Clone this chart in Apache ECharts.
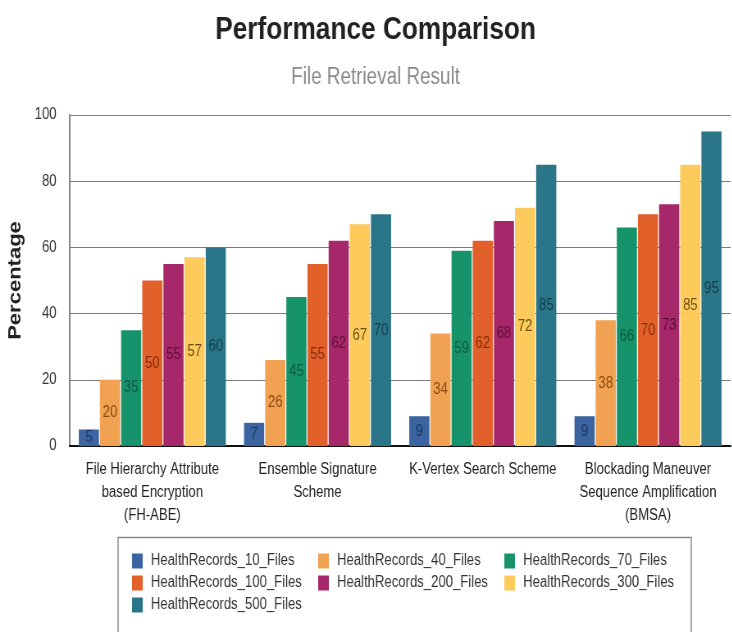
<!DOCTYPE html>
<html>
<head>
<meta charset="utf-8">
<script src="https://cdn.jsdelivr.net/npm/echarts@6/dist/echarts.min.js"></script>
<style>
  html, body { margin: 0; padding: 0; background: #fff; overflow: hidden; }
  #frame { width: 732px; height: 632px; overflow: hidden; }
  /* chart is laid out wider and condensed horizontally */
  #chart { width: 893px; height: 632px; transform: scaleX(0.82); transform-origin: 0 0; }
</style>
</head>
<body>
<div id="frame"><div id="chart"></div></div>
<script>
// Retrieval schemes on the x axis
const categories = [
  'File Hierarchy Attribute\nbased Encryption\n(FH-ABE)',
  'Ensemble Signature\nScheme',
  'K-Vertex Search Scheme',
  'Blockading Maneuver\nSequence Amplification\n(BMSA)'
];

// Retrieval percentage per record-set size
const files10  = [5, 7, 9, 9];
const files40  = [20, 26, 34, 38];
const files70  = [35, 45, 59, 66];
const files100 = [50, 55, 62, 70];
const files200 = [55, 62, 68, 73];
const files300 = [57, 67, 72, 85];
const files500 = [60, 70, 85, 95];

const seriesNames = [
  'HealthRecords_10_Files', 'HealthRecords_40_Files', 'HealthRecords_70_Files',
  'HealthRecords_100_Files', 'HealthRecords_200_Files', 'HealthRecords_300_Files',
  'HealthRecords_500_Files'
];
const seriesValues = [files10, files40, files70, files100, files200, files300, files500];

const yTicks = [0, 20, 40, 60, 80, 100];

const barColors   = ['#3b64a0', '#f0a252', '#17936b', '#e2612a', '#a6286a', '#fdca5c', '#2b7588'];
const labelColors = ['#1c3a66', '#8c4b0e', '#0b5a3f', '#8a2c08', '#5e0f36', '#6b5210', '#113f4c'];

const FONT = '"Liberation Sans", Arial, sans-serif';

const chart = echarts.init(document.getElementById('chart'), null, { renderer: 'canvas' });

const series = seriesNames.map((name, i) => ({
  name: name,
  type: 'bar',
  data: seriesValues[i],
  barGap: '5%',
  barCategoryGap: '11%',
  itemStyle: { color: barColors[i] },
  label: {
    show: true,
    position: 'inside',
    color: labelColors[i],
    fontFamily: FONT,
    fontSize: 16
  },
  emphasis: { disabled: true }
}));

const legendCommon = {
  orient: 'vertical',
  top: 553,
  padding: 0,
  itemWidth: 13,
  itemHeight: 15,
  itemGap: 6,
  icon: 'rect',
  textStyle: { fontFamily: FONT, fontSize: 16, color: '#333', padding: [0, 0, 0, 5] },
  selectedMode: false
};

chart.setOption({
  animation: false,
  backgroundColor: '#fff',
  grid: { left: 85, right: 2, top: 115, bottom: 186, containLabel: false },
  xAxis: {
    type: 'category',
    data: categories,
    axisLine: { show: true, lineStyle: { color: '#111', width: 2 } },
    axisTick: { show: false },
    axisLabel: {
      interval: 0,
      margin: 12,
      fontFamily: FONT,
      fontSize: 16,
      lineHeight: 23,
      color: '#222'
    }
  },
  yAxis: {
    type: 'value',
    min: yTicks[0],
    max: yTicks[yTicks.length - 1],
    interval: 20,
    name: 'Percentage',
    nameLocation: 'middle',
    nameGap: 55,
    nameTextStyle: { fontFamily: FONT, fontWeight: 'bold', fontSize: 22, color: '#222' },
    axisLine: { show: true, lineStyle: { color: '#858585', width: 2 } },
    axisTick: { show: false },
    splitLine: { show: true, lineStyle: { color: '#7a7a7a', width: 1 } },
    axisLabel: { margin: 16, fontFamily: FONT, fontSize: 16, color: '#333' }
  },
  legend: [
    Object.assign({ left: 161, data: [seriesNames[0], seriesNames[3], seriesNames[6]] }, legendCommon),
    Object.assign({ left: 388, data: [seriesNames[1], seriesNames[4]] }, legendCommon),
    Object.assign({ left: 615, data: [seriesNames[2], seriesNames[5]] }, legendCommon)
  ],
  graphic: [
    {
      type: 'text',
      silent: true,
      x: 458,
      y: 14,
      style: {
        text: 'Performance Comparison',
        font: 'bold 32px "Liberation Sans", Arial, sans-serif',
        fill: '#222',
        textAlign: 'center',
        textVerticalAlign: 'top'
      }
    },
    {
      type: 'text',
      silent: true,
      x: 458,
      y: 66,
      style: {
        text: 'File Retrieval Result',
        font: '23px "Liberation Sans", Arial, sans-serif',
        fill: '#8a8a8a',
        textAlign: 'center',
        textVerticalAlign: 'top'
      }
    },
    {
      type: 'rect',
      silent: true,
      z: -1,
      shape: { x: 144, y: 537.5, width: 699, height: 110 },
      style: { fill: '#fff', stroke: '#8a8a8a', lineWidth: 1.5 }
    }
  ],
  series: series
});
</script>
</body>
</html>
